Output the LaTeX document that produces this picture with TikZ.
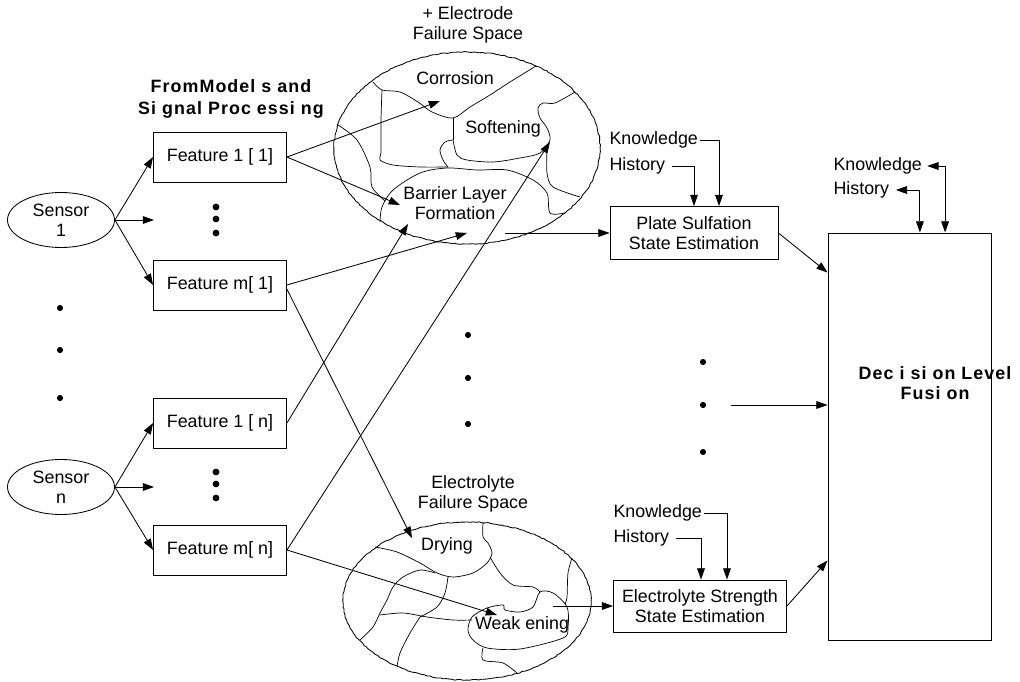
\documentclass[tikz,border=0pt]{standalone}
\usepackage{fontspec}
\setmainfont{Liberation Sans}
\usetikzlibrary{arrows.meta, shapes.geometric, decorations.pathmorphing, positioning, calc}

\begin{document}
\begin{tikzpicture}[x=0.025cm, y=-0.025cm, line width=0.6pt,
    font=\fontsize{12.7}{14.2}\selectfont,
    >={Triangle[length=8pt,width=5.5pt]}]
        \tikzstyle{sensor}=[ellipse, draw, minimum width=2.675cm, minimum height=1.375cm, inner sep=0pt, align=center]
        \tikzstyle{box}=[rectangle, draw, minimum width=3.325cm, minimum height=1.25cm, inner sep=1pt, align=center]
        \tikzstyle{tag}=[inner sep=1.5pt, anchor=west]
        \tikzstyle{crack}=[decorate, decoration={random steps, segment length=2pt, amplitude=0.35pt}]
        \tikzstyle{border}=[line width=0.5pt]

        \useasboundingbox (0,0) rectangle (1020,682);

        % Sensors and their features
        \node[sensor] (s1) at (61,220) {Sensor\\1};
        \node[sensor] (sn) at (61,487) {Sensor\\n};

        \node[box] (f11) at (220,157) {Feature 1 [ 1]};
        \node[box] (fm1) at (220,285) {Feature m[ 1]};
        \node[box] (f1n) at (220,423) {Feature 1 [ n]};
        \node[box] (fmn) at (220,550) {Feature m[ n]};

        \node[font=\fontsize{12.7}{15.6}\selectfont\bfseries\addfontfeatures{LetterSpace=6}, align=center] (src) at (231,99) {FromModel s and\\Si gnal Proc essi ng};

        \coordinate (s1gap) at (154,220);
        \coordinate (sngap) at (154,487);
        \draw[->] (s1.east) -- (f11.west);
        \draw[->] (s1.east) -- (s1gap);
        \draw[->] (s1.east) -- (fm1.west);
        \draw[->] (sn.east) -- (f1n.west);
        \draw[->] (sn.east) -- (sngap);
        \draw[->] (sn.east) -- (fmn.west);

        % dots
        \foreach \y in {207,219,233} \fill (216,\y) circle (2.4pt);
        \foreach \y in {472,484,498} \fill (216,\y) circle (2.4pt);
        \foreach \y in {308,350,398} \fill (60,\y) circle (2.2pt);
        \foreach \y in {335,378,424} \fill (468,\y) circle (2.2pt);
        \foreach \y in {362,405,452} \fill (703,\y) circle (2.2pt);

        % + electrode failure space
        \node[align=center] (elecHead) at (468,25) {+ Electrode\\Failure Space};
        \draw[crack] (467,148) ellipse [x radius=3.325cm, y radius=2.4cm];
        \draw[border] plot[smooth] coordinates {(373,82) (382,90) (400,92) (418,102) (432,112) (453,118) (470,107) (490,95) (510,82) (536,66)};
        \draw[border] plot[smooth] coordinates {(382,90) (381,120) (381,152) (380,160) (393,165) (420,167) (448,167)};
        \draw[border] (453,118) -- (453,140);
        \draw[border] plot[smooth] coordinates {(453,140) (445,142) (440,150) (443,160) (448,167)};
        \draw[border] plot[smooth] coordinates {(453,140) (457,155) (467,160) (493,162) (520,158) (540,153) (550,140) (547,128) (540,118) (538,108) (543,103) (555,103) (575,92)};
        \draw[border] plot[smooth] coordinates {(547,150) (547,173) (553,187) (580,197)};
        \draw[border] plot[smooth] coordinates {(380,222) (382,207) (393,190) (420,173) (447,168) (477,170) (507,170) (533,180) (547,193) (550,213) (565,213)};
        \draw[border] plot[smooth] coordinates {(338,125) (357,140) (370,167) (372,187) (385,201)};

        \node (corr) at (455,78) {Corrosion};
        \node (soft) at (503,129) {Softening};
        \node[align=center] (barr) at (455,203) {Barrier Layer\\Formation};

        % electrolyte failure space
        \node[align=center] (lyteHead) at (473,494) {Electrolyte\\Failure Space};
        \draw[crack] (467,601) ellipse [x radius=3.1cm, y radius=1.975cm];
        \draw[border] plot[smooth] coordinates {(375,547) (397,552) (420,563) (437,573) (453,577) (473,573) (487,563) (492,553) (488,543) (483,537) (483,523)};
        \draw[border] plot[smooth] coordinates {(490,557) (500,573) (513,585) (533,587) (540,592)};
        \draw[border] plot[smooth cycle] coordinates {(472,617) (487,608) (503,605) (505,610) (520,612) (533,607) (540,592) (553,593) (567,607) (568,627) (563,638) (520,649) (487,648) (473,640) (468,630)};
        \draw[border] plot[smooth] coordinates {(572,558) (568,573) (567,597) (565,604)};
        \draw[border] plot[smooth] coordinates {(435,573) (420,570) (403,577) (393,587) (387,600) (380,613) (373,627) (360,640)};
        \draw[border] plot[smooth] coordinates {(448,577) (445,593) (437,607) (420,617)};
        \draw[border] plot[smooth] coordinates {(380,615) (403,613) (427,617) (453,620) (472,620)};
        \draw[border] plot[smooth] coordinates {(420,617) (410,633) (400,653) (397,667)};
        \draw[border] plot[smooth] coordinates {(483,648) (483,660) (503,663) (517,673)};

        \node (dry) at (447,546) {Drying};
        \node (weak) at (522,625) {Weak ening};

        % feature to failure mode links
        \coordinate (corrTip) at (440,101);
        \coordinate (barTipA) at (400,205);
        \coordinate (barTipB) at (408,224);
        \coordinate (elecTip) at (467,233);
        \coordinate (softTip) at (550,142);
        \coordinate (dryTip) at (412,538);
        \coordinate (weakTip) at (497,615);
        \draw[->] (f11.east) -- (corrTip);
        \draw[->] (f11.east) -- (barTipA);
        \draw[->] (fm1.east) -- (elecTip);
        \draw[->] ([yshift=-3pt]fm1.east) -- (dryTip);
        \draw[->] (f1n.east) -- (barTipB);
        \draw[->] (fmn.east) -- (softTip);
        \draw[->] (fmn.east) -- (weakTip);

        % state estimation
        \node[box, minimum width=4.2cm, minimum height=1.325cm] (plate) at (694,233) {Plate Sulfation\\State Estimation};
        \node[box, minimum width=4.325cm, minimum height=1.3cm] (lyte) at (700,606) {Electrolyte Strength\\State Estimation};

        \coordinate (elecSrc) at (505,233);
        \coordinate (lyteSrc) at (553,606);
        \draw[->] (elecSrc) -- (plate.west);
        \draw[->] (lyteSrc) -- (lyte.west);

        \node[tag] (know1) at (607,140) {Knowledge};
        \node[tag] (hist1) at (607,166) {History};
        \draw[->] (know1.east) -| ([xshift=0.625cm]plate.north);
        \draw[->] ([xshift=3pt]hist1.east) -| (plate.north);

        \node[tag] (know2) at (611,513) {Knowledge};
        \node[tag] (hist2) at (611,538) {History};
        \draw[->] (know2.east) -| ([xshift=0.675cm]lyte.north);
        \draw[->] ([xshift=3pt]hist2.east) -| ([xshift=0.025cm]lyte.north);

        % decision level fusion
        \node[draw, minimum width=4.075cm, minimum height=10.175cm] (fusion) at (909.5,436.5) {};
        \node[font=\fontsize{12.7}{14.5}\selectfont\bfseries\addfontfeatures{LetterSpace=6}, align=center] (fusionText) at (935,383) {Dec i si on Level\\Fusi on};

        \node[tag] (know3) at (831,166) {Knowledge};
        \node[tag] (hist3) at (831,190) {History};
        \draw[<->] ([xshift=2pt]know3.east) -| ([xshift=0.89cm]fusion.north);
        \draw[<->] ([xshift=3pt]hist3.east) -| ([xshift=0.26cm]fusion.north);

        \coordinate (midOut) at (731,405);
        \draw[->] (midOut) -- (midOut -| fusion.west);
        \draw[->] (plate.east) -- ([yshift=-1cm]fusion.north west);
        \draw[->] (lyte.east) -- ([yshift=2cm]fusion.south west);
\end{tikzpicture}
\end{document}
